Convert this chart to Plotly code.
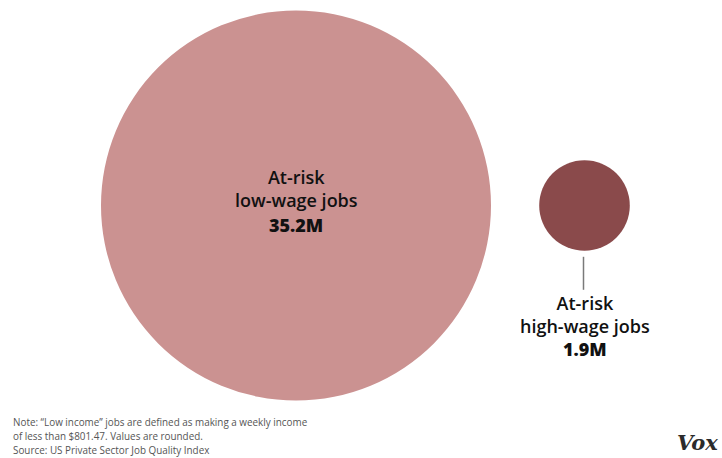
import plotly.graph_objects as go
import math

# Data
categories = ["At-risk<br>low-wage jobs", "At-risk<br>high-wage jobs"]
values_m = [35.2, 1.9]          # millions of jobs
value_labels = ["35.2M", "1.9M"]
colors = ["#CB9291", "#8A4A4B"]

W, H = 722, 458
# Circle area proportional to value: radius of the largest circle in px
R_MAX = 195.0
k = R_MAX / math.sqrt(max(values_m))
radii = [k * math.sqrt(v) for v in values_m]
centers_x = [296, 584.5]
center_y = 205.5

FONT = "Open Sans"
LABEL = dict(family=FONT, size=18, color="#111111", weight=600)
VALUE = dict(family=FONT, size=18, color="#111111", weight=800)

fig = go.Figure()
# invisible trace so the axes exist
fig.add_trace(go.Scatter(x=[0, W], y=[0, H], mode="markers",
                         marker=dict(opacity=0), hoverinfo="skip", showlegend=False))

shapes = []
for cx, r, col in zip(centers_x, radii, colors):
    shapes.append(dict(type="circle", xref="x", yref="y",
                       x0=cx - r, x1=cx + r, y0=center_y - r, y1=center_y + r,
                       fillcolor=col, line=dict(width=0), layer="below"))

# leader line under the small circle
shapes.append(dict(type="line", xref="x", yref="y",
                   x0=centers_x[1] - 1, x1=centers_x[1] - 1,
                   y0=center_y + radii[1] + 6, y1=center_y + radii[1] + 39,
                   line=dict(color="#7a7a7a", width=1.5)))

annotations = []
# label inside the big circle
annotations.append(dict(x=centers_x[0], y=188, xref="x", yref="y",
                        text=categories[0], showarrow=False, font=LABEL,
                        align="center", yanchor="middle"))
annotations.append(dict(x=centers_x[0], y=225, xref="x", yref="y",
                        text=value_labels[0], showarrow=False, font=VALUE,
                        yanchor="middle"))
# label below the small circle
annotations.append(dict(x=centers_x[1], y=314.5, xref="x", yref="y",
                        text=categories[1], showarrow=False, font=LABEL,
                        align="center", yanchor="middle"))
annotations.append(dict(x=centers_x[1], y=349, xref="x", yref="y",
                        text=value_labels[1], showarrow=False, font=VALUE,
                        yanchor="middle"))

# footnote
note_lines = [
    "Note: “Low income” jobs are defined as making a weekly income",
    "of less than $801.47. Values are rounded.",
    "Source: US Private Sector Job Quality Index",
]
for i, line in enumerate(note_lines):
    annotations.append(dict(x=11, y=422 + i * 14, xref="x", yref="y",
                            text=line, showarrow=False, xanchor="left", yanchor="middle",
                            font=dict(family=FONT, size=9.9, color="#555555")))

# logo
annotations.append(dict(x=720, y=442, xref="x", yref="y", text="Vox",
                        showarrow=False, xanchor="right", yanchor="middle",
                        font=dict(family="DejaVu Serif", size=21, color="#2b2b2b",
                                  weight=700, style="italic")))

fig.update_layout(
    width=W, height=H,
    margin=dict(l=0, r=0, t=0, b=0),
    paper_bgcolor="white", plot_bgcolor="white",
    xaxis=dict(range=[0, W], visible=False, fixedrange=True),
    yaxis=dict(range=[H, 0], visible=False, fixedrange=True),
    shapes=shapes, annotations=annotations,
    showlegend=False,
)

fig.write_html("out.html")
